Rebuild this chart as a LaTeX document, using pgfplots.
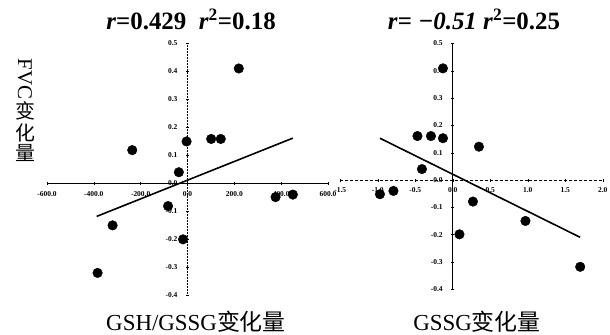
\documentclass[border=0pt]{standalone}
\usepackage{pgfplots}
\pgfplotsset{compat=1.18}
\usepackage{fontspec}
\setmainfont{Liberation Serif}
\newfontfamily\cjk{Noto Sans CJK SC}

\pgfplotstableread{
x y
219 0.41
-236 0.118
-4 0.149
101 0.158
142 0.158
-37 0.039
-83 -0.082
376 -0.05
450 -0.041
-320 -0.151
-19 -0.201
-384 -0.321
}\gshdata

\pgfplotstableread{
x y
-0.13 0.409
-0.47 0.161
-0.29 0.161
-0.13 0.153
0.35 0.122
-0.41 0.040
-0.97 -0.052
-0.79 -0.040
0.27 -0.079
0.09 -0.199
0.97 -0.150
1.70 -0.318
}\gssgdata

\pgfplotsset{
  myaxis/.style={
    scale only axis,
    axis lines=middle,
    enlargelimits=false,
    clip=false,
    hide obscured x ticks=false,
    hide obscured y ticks=false,
    tick style={black, line width=0.4pt},
    major tick length=3bp,
    tick label style={font=\fontsize{7.5}{8}\selectfont\bfseries},
    /pgf/number format/assume math mode=true,
    ymin=-0.4, ymax=0.5,
    ytick={-0.4,-0.3,...,0.5},
    yticklabel style={xshift=-5bp, /pgf/number format/.cd, fixed, fixed zerofill, precision=1},
  },
}

\begin{document}
\begin{tikzpicture}
\path[use as bounding box] (0,0) rectangle (610bp,335bp);

% left panel
\begin{axis}[myaxis,
  at={(47bp,40bp)}, anchor=south west,
  width=281bp, height=251.7bp,
  xmin=-600, xmax=600,
  xtick={-600,-400,...,600},
  xticklabel style={yshift=-3.5bp, /pgf/number format/.cd, fixed, fixed zerofill, precision=1},
  x axis line style={-, line width=0.8pt},
  y axis line style={-, line width=0.5pt, densely dotted},
]
\addplot[only marks, mark=*, mark size=4.8bp, black] table[x=x,y=y] {\gshdata};
\addplot[black, line width=1.6pt, no marks] coordinates {(-388,-0.119) (450,0.161)};
\end{axis}

% right panel
\begin{axis}[myaxis,
  at={(340.2bp,45.8bp)}, anchor=south west,
  width=262.5bp, height=245.7bp,
  xmin=-1.5, xmax=2.0,
  xtick={-1.5,-1.0,...,2.0},
  xticklabel style={yshift=-3bp, /pgf/number format/.cd, fixed, fixed zerofill, precision=1},
  x axis line style={-, line width=0.8pt, densely dashed},
  y axis line style={-, line width=1.3pt},
]
\addplot[only marks, mark=*, mark size=4.8bp, black] table[x=x,y=y] {\gssgdata};
\addplot[black, line width=1.6pt, no marks] coordinates {(-0.97,0.153) (1.70,-0.210)};
\end{axis}

% titles
\node[font=\fontsize{25}{27}\selectfont\bfseries] at (191bp,316bp)
  {\textit{r}=0.429~~\textit{r}\textsuperscript{2}=0.18};
\node[font=\fontsize{25}{27}\selectfont\bfseries] at (474bp,316bp)
  {\textit{r}= \textit{−0.51} \textit{r}\textsuperscript{2}=0.25};

% y label
\node[font=\fontsize{21}{22}\selectfont, rotate=-90] at (25bp,256bp) {FVC};
\node[font=\fontsize{20}{22}\selectfont\cjk] at (25bp,224bp) {变};
\node[font=\fontsize{20}{22}\selectfont\cjk] at (25bp,202.5bp) {化};
\node[font=\fontsize{20}{22}\selectfont\cjk] at (25bp,182bp) {量};

% x labels
\node[font=\fontsize{23}{25}\selectfont] at (196bp,13bp) {GSH/GSSG{\cjk 变化量}};
\node[font=\fontsize{23}{25}\selectfont] at (477bp,13bp) {GSSG{\cjk 变化量}};
\end{tikzpicture}
\end{document}
